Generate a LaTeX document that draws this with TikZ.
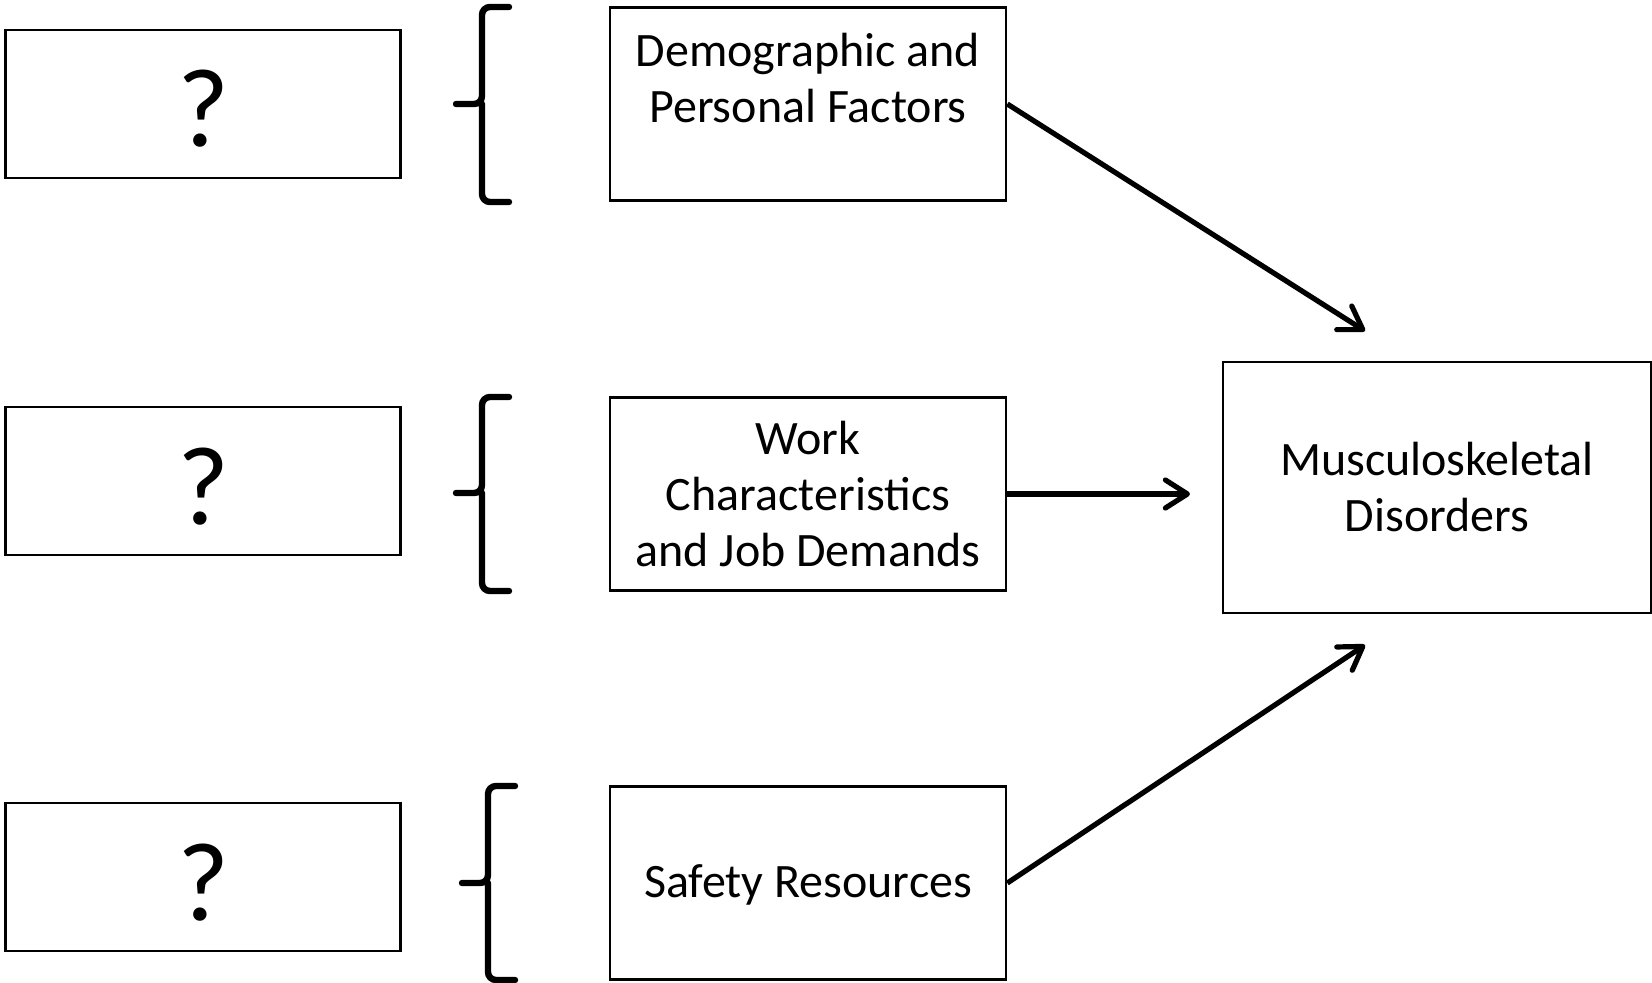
\documentclass[tikz,border=0pt]{standalone}
\usepackage{fontspec}
\setmainfont{Carlito}
\usetikzlibrary{arrows.meta,positioning}
\tikzset
{
    unknownbox/.style = {rectangle, draw=black, line width=1.3pt, minimum width=197.5pt, minimum height=74pt, inner sep=0pt, font=\fontsize{56}{60}\selectfont, text height=43pt, text depth=0pt},
    factorbox/.style  = {rectangle, draw=black, line width=1.3pt, align=center, minimum width=198pt, minimum height=96.5pt, inner sep=0pt, font=\fontsize{24}{28}\selectfont},
    outcomebox/.style = {factorbox, minimum width=214pt, minimum height=125.5pt},
    bracket/.style    = {line width=3.2pt, rounded corners=4pt, line cap=round},
    link/.style       = {line width=2.6pt, -{Straight Barb[length=11pt,width=14pt,round]}}
}
\begin{document}
\begin{tikzpicture}[x=0.5pt,y=-0.5pt]
\useasboundingbox (0,0) rectangle (1652,983);
\node [unknownbox] at (203,104) (q1) {?};
\node [unknownbox] at (203,481) (q2) {?};
\node [unknownbox] at (203,877) (q3) {?};
\node [factorbox] at (808,104) (dem) {Demographic and\\Personal Factors\\[-10pt]\strut};
\node [factorbox] at (808,494) (wrk) {Work\\Characteristics\\and Job Demands};
\node [factorbox, text depth=2pt] at (808,883) (saf) {Safety Resources};
\node [outcomebox] at (1437,487.5) (msd) {Musculoskeletal\\Disorders};
\coordinate (tipA) at (1365,331);
\coordinate (tipB) at (1190,494);
\coordinate (tipC) at (1365,645);
% braces
\foreach \x/\t/\m/\b in {482/7/104/202, 482/397/493/591, 488/786/883/980}
    \draw [bracket] (\x+27,\t) -- (\x,\t) -- (\x,\m) -- (\x-26,\m) (\x,\m) -- (\x,\b) -- (\x+27,\b);
\draw [link] (dem.east) -- (tipA);
\draw [link] (wrk.east) -- (tipB);
\draw [link] (saf.east) -- (tipC);
\end{tikzpicture}
\end{document}
